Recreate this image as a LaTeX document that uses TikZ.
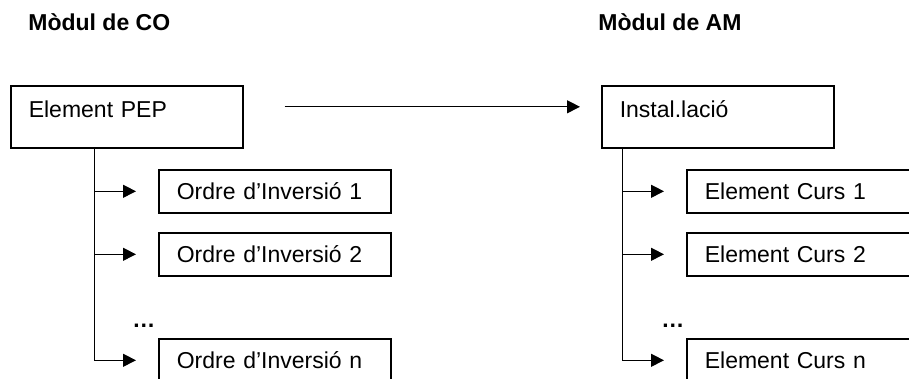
\documentclass[tikz,border=0pt]{standalone}
\usepackage{fontspec}
\setmainfont{Liberation Sans}
\usepackage{tikz}
\usetikzlibrary{arrows.meta}

\begin{document}
\begin{tikzpicture}[x=0.5pt,y=-0.5pt,font=\fontsize{11.5pt}{14pt}\selectfont]
\tikzset{title/.style={font=\fontsize{11.5pt}{14pt}\selectfont\bfseries,anchor=base west,inner sep=0pt},
         parent/.style={draw,line width=0.8pt,anchor=north west,inner xsep=9pt,inner ysep=0pt,text width=98pt,text height=16pt,text depth=15pt,align=left},
         child/.style={draw,line width=0.8pt,anchor=north west,inner xsep=9pt,inner ysep=0pt,text width=98pt,minimum height=21.5pt,align=left},
         dots/.style={font=\fontsize{11.5pt}{14pt}\selectfont\bfseries,anchor=base west,inner sep=0pt},
         link/.style={line width=0.5pt,-{Triangle[length=6.5pt,width=6.5pt]},shorten >=11pt}}
\useasboundingbox (0,0) rectangle (909,379);
\clip (0,0) rectangle (909,379);
\node[title] (co) at (28,31) {Mòdul de CO};
\node[title] (am) at (598,31) {Mòdul de AM};
\node[parent] (pep) at (10,85) {Element PEP};
\node[parent] (inst) at (601,85) {Instal.lació};
\foreach \i/\y in {1/169,2/232,n/338}{
  \node[child] (ordre\i) at (158,\y) {Ordre d’Inversió \i};
  \node[child] (curs\i) at (686,\y) {Element Curs \i};
}
\node[dots] (dotsco) at (132,327) {…};
\node[dots] (dotsam) at (661,327) {…};
\coordinate (trunkco) at ([xshift=42pt]pep.south west);
\coordinate (trunkam) at ([xshift=10.5pt]inst.south west);
\draw[link,shorten >=10.5pt] ([xshift=20.5pt,yshift=5pt]pep.east) -- ([yshift=5pt]inst.west);
\foreach \i in {1,2}{
  \draw[link] (trunkco |- ordre\i.west) -- (ordre\i.west);
  \draw[link] (trunkam |- curs\i.west) -- (curs\i.west);
}
\draw[link] (trunkco) |- (ordren.west);
\draw[link] (trunkam) |- (cursn.west);
\end{tikzpicture}
\end{document}
